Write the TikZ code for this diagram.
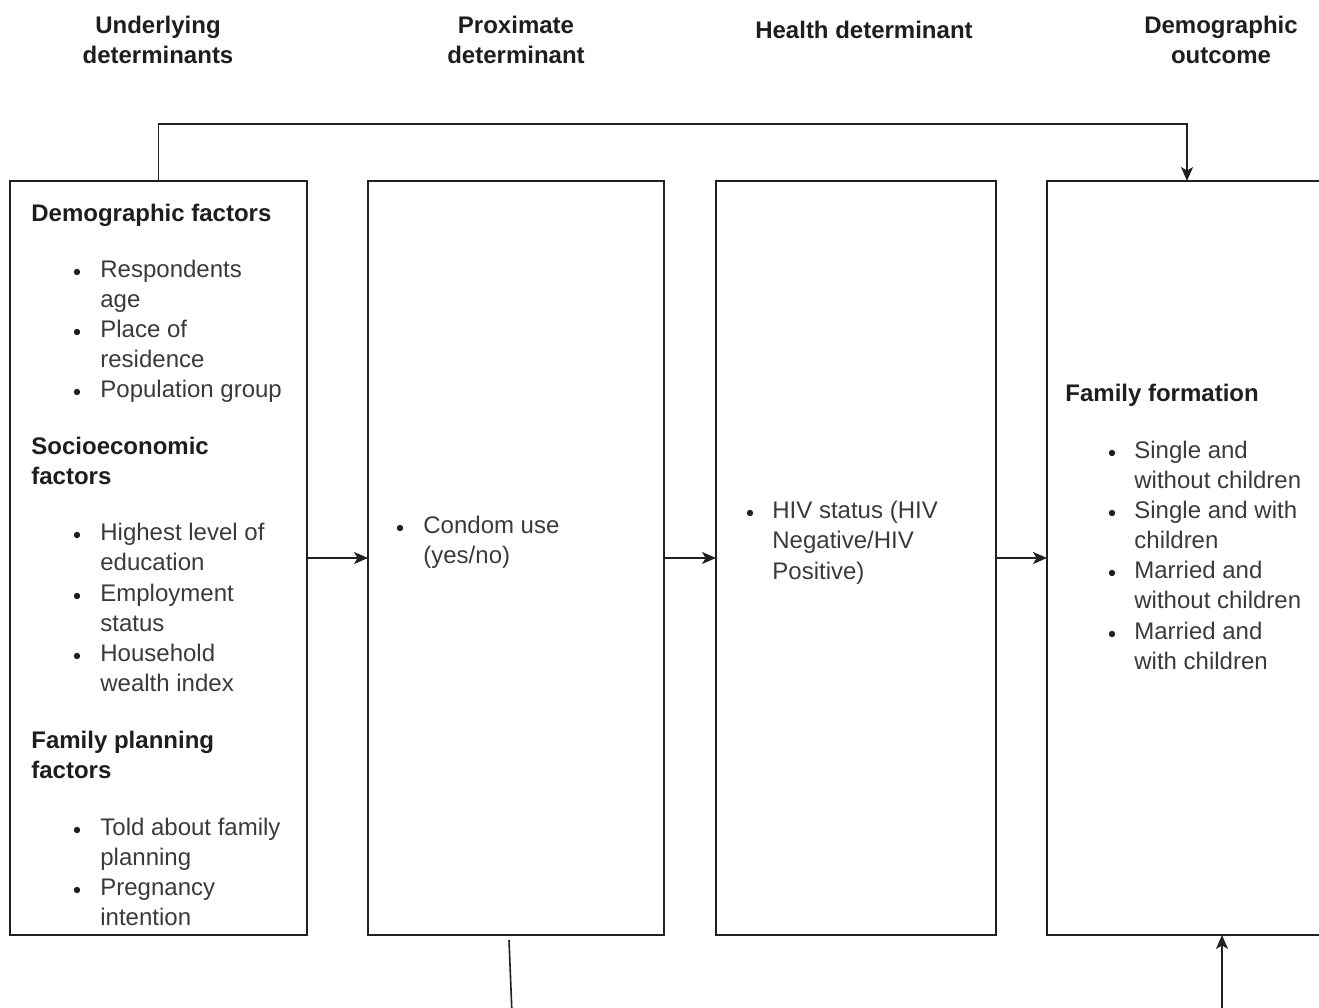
\documentclass[tikz,border=0pt]{standalone}
\usepackage{fontspec}
\setmainfont{Liberation Sans}
\usetikzlibrary{arrows.meta}
\definecolor{bodyc}{HTML}{3A3A3A}
\definecolor{headc}{HTML}{1E1E1E}
\definecolor{linec}{HTML}{202020}
\begin{document}
\begin{tikzpicture}[x=0.5pt,y=-0.5pt,
  box/.style={draw=linec,line width=0.8pt,inner sep=0pt,outer sep=0pt,minimum height=377pt},
  txt/.style={font=\fontsize{12}{15}\selectfont,text=bodyc,anchor=base west,inner sep=0pt},
  hd/.style={font=\fontsize{12}{15}\selectfont\bfseries,text=headc,anchor=base west,inner sep=0pt},
  colhd/.style={font=\fontsize{12}{15}\selectfont\bfseries,text=headc,anchor=base,inner sep=0pt},
  bul/.style={circle,fill=headc,inner sep=0pt,minimum size=3.2pt},
  arr/.style={draw=linec,line width=0.8pt,-{Stealth[length=7pt,width=6pt,inset=1.8pt]}},
  ln/.style={draw=linec,line width=0.8pt}]
\useasboundingbox (0,0) rectangle (1319,1008);
\clip (0,0) rectangle (1319,1008);
% column headers
\node[colhd] (h1a) at (158,33) {Underlying};
\node[colhd] (h1b) at (158,63) {determinants};
\node[colhd] (h2a) at (516,33) {Proximate};
\node[colhd] (h2b) at (516,63) {determinant};
\node[colhd] (h3a) at (864,38) {Health determinant};
\node[colhd] (h4a) at (1221,33) {Demographic};
\node[colhd] (h4b) at (1221,63) {outcome};
% boxes
\node[box,minimum width=148.5pt] (b1) at (158.5,558) {};
\node[box,minimum width=148pt] (b2) at (516,558) {};
\node[box,minimum width=140pt] (b3) at (856,558) {};
\node[box,minimum width=148pt] (b4) at (1195,558) {};
% box 1 text
\node[hd] (t1) at (31,221) {Demographic factors};
\node[bul] (u1) at (77,272) {};
\node[txt] (t2) at (100,277) {Respondents};
\node[txt] (t3) at (100,307) {age};
\node[bul] (u2) at (77,332) {};
\node[txt] (t4) at (100,337) {Place of};
\node[txt] (t5) at (100,367) {residence};
\node[bul] (u3) at (77,392) {};
\node[txt] (t6) at (100,397) {Population group};
\node[hd] (t7) at (31,454) {Socioeconomic};
\node[hd] (t8) at (31,484) {factors};
\node[bul] (u4) at (77,535) {};
\node[txt] (t9) at (100,540) {Highest level of};
\node[txt] (t10) at (100,570) {education};
\node[bul] (u5) at (77,596) {};
\node[txt] (t11) at (100,601) {Employment};
\node[txt] (t12) at (100,631) {status};
\node[bul] (u6) at (77,656) {};
\node[txt] (t13) at (100,661) {Household};
\node[txt] (t14) at (100,691) {wealth index};
\node[hd] (t15) at (31,748) {Family planning};
\node[hd] (t16) at (31,778) {factors};
\node[bul] (u7) at (77,830) {};
\node[txt] (t17) at (100,835) {Told about family};
\node[txt] (t18) at (100,865) {planning};
\node[bul] (u8) at (77,890) {};
\node[txt] (t19) at (100,895) {Pregnancy};
\node[txt] (t20) at (100,925) {intention};
% box 2 text
\node[bul] (u9) at (400,528) {};
\node[txt] (t21) at (423,533) {Condom use};
\node[txt] (t22) at (423,563) {(yes/no)};
% box 3 text
\node[bul] (u10) at (750,513) {};
\node[txt] (t23) at (772,518) {HIV status (HIV};
\node[txt] (t24) at (772,548) {Negative/HIV};
\node[txt] (t25) at (772,579) {Positive)};
% box 4 text
\node[hd] (t26) at (1065,401) {Family formation};
\node[bul] (u11) at (1112,453) {};
\node[txt] (t27) at (1134,458) {Single and};
\node[txt] (t28) at (1134,488) {without children};
\node[bul] (u12) at (1112,513) {};
\node[txt] (t29) at (1134,518) {Single and with};
\node[txt] (t30) at (1134,548) {children};
\node[bul] (u13) at (1112,573) {};
\node[txt] (t31) at (1134,578) {Married and};
\node[txt] (t32) at (1134,608) {without children};
\node[bul] (u14) at (1112,634) {};
\node[txt] (t33) at (1134,639) {Married and};
\node[txt] (t34) at (1134,669) {with children};
% connectors
\draw[arr] (b1.east) -- (b2.west);
\draw[arr] (b2.east) -- (b3.west);
\draw[arr] (b3.east) -- (b4.west);
\coordinate (c1) at (1187,124);
\draw[arr] (b1.north) |- (c1) -- (c1 |- b4.north);
\coordinate (s1) at (509,940);
\coordinate (s2) at (512,1014);
\coordinate (s3) at (1222,1014);
\draw[arr] (s1) -- (s2) -- (s3) -- (s3 |- b4.south);
\end{tikzpicture}
\end{document}
